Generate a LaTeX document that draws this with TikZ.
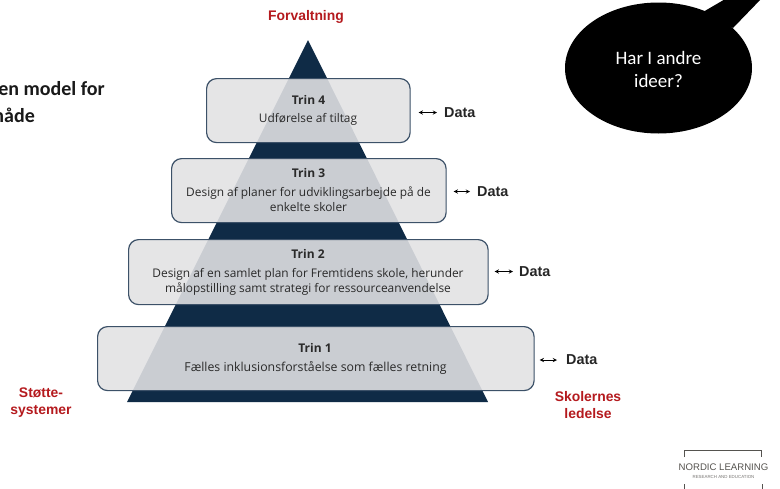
\documentclass[tikz,border=0pt]{standalone}
\usepackage{fontspec}
\usetikzlibrary{shapes.geometric}
\setmainfont{Open Sans}
\newfontfamily\armfont{Liberation Sans}
\newfontfamily\calfont{Carlito}
\definecolor{navy}{HTML}{0F2B46}
\definecolor{boxline}{HTML}{3C5168}
\definecolor{boxfill}{HTML}{E2E2E4}
\definecolor{redlab}{HTML}{B51A1E}
\definecolor{ink}{HTML}{2A2A2A}
\definecolor{logogray}{HTML}{55534F}
\tikzset{
  x=1pt,y=-1pt,
  trinbox/.style={draw=boxline,line width=1.2pt,fill=boxfill,fill opacity=.89,rounded corners=10pt,anchor=north west,inner sep=0pt},
  body/.style={align=center,text=ink,font=\fontsize{11.9}{15}\selectfont,inner sep=0pt},
  head/.style={text=ink,font=\fontsize{12}{14}\selectfont\bfseries,inner sep=0pt},
  datalab/.style={text=black!85,font=\armfont\fontsize{14.4}{16}\selectfont\bfseries,anchor=west,inner sep=0pt},
  redlabel/.style={text=redlab,align=center,font=\armfont\fontsize{13.9}{17}\selectfont\bfseries,inner sep=0pt},
  dataarrow/.style={<->,>=stealth,line width=.9pt,black},
  title/.style={text=black!90,anchor=east,inner sep=0pt,font=\calfont\fontsize{20}{24}\selectfont\bfseries},
  logoline/.style={draw=logogray,line width=1pt}
}
\begin{document}
\begin{tikzpicture}
\useasboundingbox (0,0) rectangle (780,488);
\fill[white] (0,0) rectangle (780,488);
% pyramid
\fill[navy] (308,40) -- (488,402) -- (127,402) -- cycle;
% boxes
\node[trinbox,minimum width=203.5pt,minimum height=64pt] (t4) at (206,78) {};
\node[trinbox,minimum width=274.5pt,minimum height=64pt] (t3) at (171,158) {};
\node[trinbox,minimum width=359.5pt,minimum height=65pt] (t2) at (128,239) {};
\node[trinbox,minimum width=436.5pt,minimum height=64pt] (t1) at (97,326) {};
% box texts
\node[head] (h4) at (308.5,100) {Trin 4};
\node[body] (b4) at (308,119.5) {Udførelse af tiltag};
\node[head] (h3) at (308.5,173) {Trin 3};
\node[body] (b3) at (308.5,199.5) {Design af planer for udviklingsarbejde på de\\enkelte skoler};
\node[head] (h2) at (308,254) {Trin 2};
\node[body] (b2) at (308,281.5) {Design af en samlet plan for Fremtidens skole, herunder\\målopstilling samt strategi for ressourceanvendelse};
\node[head] (h1) at (315,348) {Trin 1};
\node[body,font=\fontsize{12.3}{15}\selectfont] (b1) at (315.5,368) {Fælles inklusionsforståelse som fælles retning};
% data
\node[datalab] (d4) at (444,112.5) {Data};
\node[datalab] (d3) at (477,191.5) {Data};
\node[datalab] (d2) at (519,271.5) {Data};
\node[datalab] (d1) at (566,360) {Data};
\draw[dataarrow,shorten <=8pt,shorten >=7pt] (t4.east|-d4) -- (d4.west);
\draw[dataarrow,shorten <=7pt,shorten >=7pt] (t3.east|-d3) -- (d3.west);
\draw[dataarrow,shorten <=6pt,shorten >=6pt] (t2.east|-d2) -- (d2.west);
\draw[dataarrow,shorten <=5pt,shorten >=9pt] (t1.east|-d1) -- (d1.west);
% red labels
\node[redlabel] (forv) at (306,17) {Forvaltning};
\node[redlabel] (stot) at (41,402.5) {Støtte-\\systemer};
\node[redlabel] (skol) at (588,405.5) {Skolernes\\ledelse};
% cut-off heading
\node[title] (ti1) at (105,88.5) {en model for};
\node[title] (ti2) at (35,115) {nåde};
% callout
\fill[black] (703,12) -- (727,-2) -- (762,-2) -- (733,28) -- cycle;
\node[ellipse,fill=black,minimum width=187pt,minimum height=131pt,inner sep=0pt] (call) at (658.5,68) {};
\node[text=white,align=center,inner sep=0pt,font=\calfont\fontsize{19}{23.5}\selectfont] (calltext) at (658.5,69.5) {Har I andre\\ideer?};
% logo
\draw[logoline] (684,457) -- (684,450) -- (761.5,450) -- (761.5,457);
\draw[logoline] (684,484) -- (684,490);
\draw[logoline] (762,484) -- (762,490);
\node[text=logogray,inner sep=0pt,font=\armfont\fontsize{9.6}{10}\selectfont] (lg1) at (723.5,467.5) {NORDIC LEARNING};
\node[text=logogray!80,inner sep=0pt,font=\armfont\fontsize{4.4}{5}\selectfont] (lg2) at (723.5,476.5) {RESEARCH AND EDUCATION};
\end{tikzpicture}
\end{document}
